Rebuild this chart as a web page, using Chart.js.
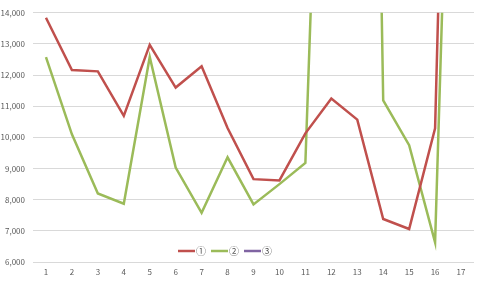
<!DOCTYPE html>
<html>
<head>
<meta charset="utf-8">
<script src="https://cdn.jsdelivr.net/npm/chart.js@4.4.0/dist/chart.umd.min.js"></script>
<style>
  body { margin: 0; background: #fff; }
</style>
</head>
<body>
<canvas id="chart" width="480" height="281"></canvas>
<script>
const categories = ["1", "2", "3", "4", "5", "6", "7", "8", "9", "10", "11", "12", "13", "14", "15", "16", "17"];
const seriesNames = ["①", "②", "③"];
const series1 = [13840, 12160, 12120, 10690, 12970, 11600, 12280, 10300, 8660, 8620, 10130, 11250, 10570, 7380, 7060, 10290, 42000];
const series2 = [12580, 10100, 8200, 7870, 12580, 9030, 7580, 9360, 7850, 8500, 9180, 33000, 60000, 11190, 9750, 6630, 34000];
const series3 = [null, null, null, null, null, null, null, null, null, null, null, null, null, null, null, null, null];
const yMin = 6000;
const yMax = 14000;
const yStep = 1000;

const lineColors = ["#C0504D", "#9BBB59", "#8064A2"];
const tickFont = { family: "'Noto Sans CJK JP', 'Liberation Sans', sans-serif", size: 8 };

// legend drawn inside the plot, like the Excel overlay
const overlayLegend = {
    id: "overlayLegend",
    afterDraw(chart) {
        const ctx = chart.ctx;
        const area = chart.chartArea;
        let x = area.left + 145;
        const y = area.bottom - 11;
        ctx.save();
        ctx.font = "10px 'Noto Sans CJK JP', sans-serif";
        ctx.textBaseline = "middle";
        chart.data.datasets.forEach((ds) => {
            ctx.strokeStyle = ds.borderColor;
            ctx.lineWidth = 2.5;
            ctx.beginPath();
            ctx.moveTo(x, y);
            ctx.lineTo(x + 17, y);
            ctx.stroke();
            ctx.fillStyle = "#595959";
            ctx.fillText(ds.label, x + 18, y);
            x += 33;
        });
        ctx.restore();
    },
};

new Chart(document.getElementById("chart"), {
    type: "line",
    data: {
        labels: categories,
        datasets: [
            { label: seriesNames[0], data: series1, borderColor: lineColors[0] },
            { label: seriesNames[1], data: series2, borderColor: lineColors[1] },
            { label: seriesNames[2], data: series3, borderColor: lineColors[2] },
        ],
    },
    options: {
        responsive: false,
        animation: false,
        layout: {
            padding: { top: 12, right: 6, bottom: 0, left: 0 },
        },
        elements: {
            line: { borderWidth: 2.5, tension: 0 },
            point: { radius: 0 },
        },
        plugins: {
            legend: { display: false },
            tooltip: { enabled: false },
        },
        scales: {
            x: {
                offset: true,
                grid: { display: false, drawTicks: false },
                border: { display: false },
                ticks: { color: "#595959", font: tickFont, padding: 5, maxRotation: 0 },
                afterFit: (scale) => { scale.height = 19; },
            },
            y: {
                min: yMin,
                max: yMax,
                grid: { color: "#d9d9d9", lineWidth: 1, drawTicks: false },
                border: { display: false },
                ticks: {
                    stepSize: yStep,
                    color: "#595959",
                    font: tickFont,
                    padding: 8,
                    callback: (v) => v.toLocaleString("en-US"),
                },
                afterFit: (scale) => { scale.width = 33; },
            },
        },
    },
    plugins: [overlayLegend],
});
</script>
</body>
</html>
